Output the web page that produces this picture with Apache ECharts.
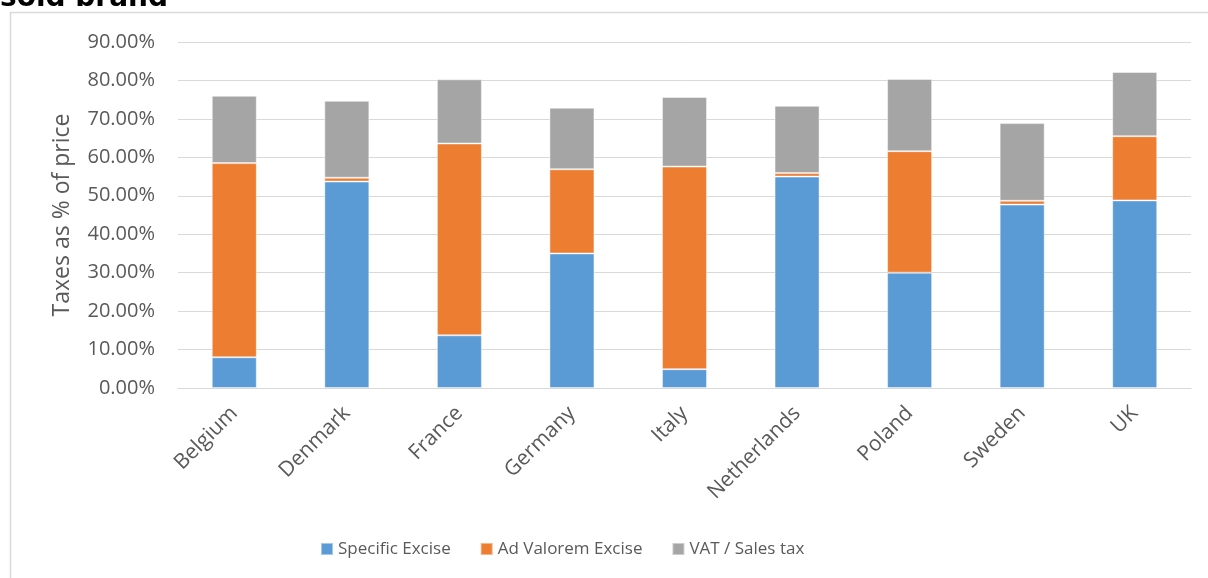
<!DOCTYPE html>
<html>
<head>
<meta charset="utf-8">
<script src="https://cdn.jsdelivr.net/npm/echarts@6/dist/echarts.min.js"></script>
<style>
html,body{margin:0;padding:0;background:#fff;}
#chart{width:1208px;height:578px;}
</style>
</head>
<body>
<div id="chart"></div>
<script>
const categories = ['Belgium','Denmark','France','Germany','Italy','Netherlands','Poland','Sweden','UK'];
const specificExcise = [8.0, 53.7, 13.7, 35.0, 4.9, 55.0, 30.0, 47.7, 48.8];
const adValoremExcise = [50.5, 1.0, 49.9, 21.9, 52.7, 0.9, 31.6, 1.0, 16.7];
const vatSalesTax = [17.5, 20.0, 16.7, 16.0, 18.1, 17.5, 18.8, 20.2, 16.7];
const seriesNames = ['Specific Excise','Ad Valorem Excise','VAT / Sales tax'];
const titleText = 'sold brand';
const yAxisName = 'Taxes as % of price';

const colors = ['#5B9BD5','#ED7D31','#A5A5A5'];
const font = '"Open Sans", "Noto Sans", sans-serif';
const textColor = '#595959';

const chart = echarts.init(document.getElementById('chart'), null, {renderer:'canvas'});

function barSeries(name, data, color){
  return {
    name: name,
    type: 'bar',
    stack: 'total',
    barWidth: '40%',
    data: data,
    itemStyle: {color: color, borderColor: 'rgba(255,255,255,0.45)', borderWidth: 1},
    emphasis: {disabled: true}
  };
}

chart.setOption({
  animation: false,
  color: colors,
  textStyle: {fontFamily: font},
  graphic: [
    {
      type: 'rect',
      shape: {x: 10.5, y: 12.5, width: 1400, height: 800},
      style: {fill: 'none', stroke: '#d9d9d9', lineWidth: 1.5},
      silent: true, z: 0
    },
    {
      type: 'text',
      left: 0, top: -15,
      style: {text: titleText, font: 'bold 28px "DejaVu Sans", sans-serif', fill: '#000'},
      silent: true, z: 10
    }
  ],
  grid: {left: 178, right: 17, top: 42, bottom: 190, containLabel: false},
  legend: {
    left: 320, top: 538,
    padding: 0,
    icon: 'rect',
    itemWidth: 12, itemHeight: 12,
    itemGap: 29,
    textStyle: {fontFamily: font, fontSize: 17, color: textColor, lineHeight: 22},
    data: seriesNames
  },
  xAxis: {
    type: 'category',
    data: categories,
    axisLine: {lineStyle: {color: '#d9d9d9', width: 1}},
    axisTick: {show: false},
    axisLabel: {rotate: 45, margin: 22, fontFamily: font, fontSize: 21, color: textColor, interval: 0}
  },
  yAxis: {
    type: 'value',
    min: 0, max: 90, interval: 10,
    name: yAxisName,
    nameLocation: 'middle',
    nameGap: 104,
    nameTextStyle: {fontFamily: font, fontSize: 23, color: textColor},
    axisLine: {show: false},
    axisTick: {show: false},
    axisLabel: {margin: 23, fontFamily: font, fontSize: 20, color: textColor, formatter: v => v.toFixed(2) + '%'},
    splitLine: {lineStyle: {color: '#d9d9d9', width: 1}}
  },
  series: [
    barSeries(seriesNames[0], specificExcise, colors[0]),
    barSeries(seriesNames[1], adValoremExcise, colors[1]),
    barSeries(seriesNames[2], vatSalesTax, colors[2])
  ]
});
</script>
</body>
</html>
